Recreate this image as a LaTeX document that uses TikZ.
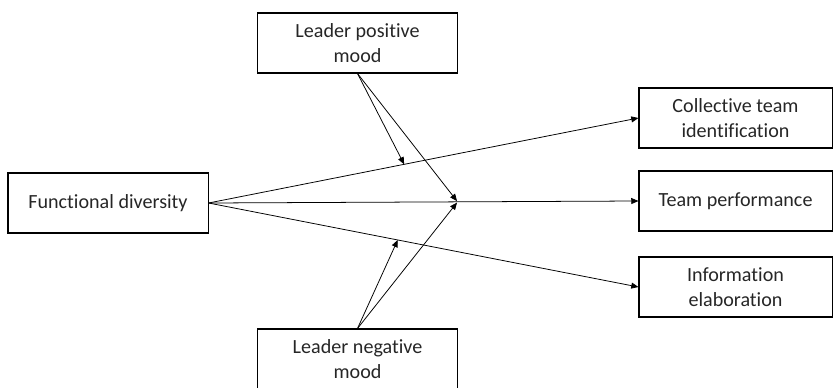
\documentclass[tikz,border=0pt]{standalone}
\usepackage{fontspec}
\setmainfont{Carlito}[Ligatures=NoCommon]
\usepackage{tikz}
\usetikzlibrary{arrows.meta, positioning}

\begin{document}
\begin{tikzpicture}[x=0.025cm, y=-0.025cm,
        caja/.style={draw, line width=0.75pt, minimum width=5cm, minimum height=1.5cm,
            align=center, inner sep=2pt, text=black!85, font=\fontsize{14.3}{17.8}\selectfont},
        flecha/.style={-{Triangle[length=0.18cm, width=0.15cm]}, line width=0.55pt}]
        \useasboundingbox (0,0) rectangle (833,387);
        % Cajas de la izquierda y del centro
        \node[caja] (lpos) at (357.5,43) {Leader positive\\mood};
        \node[caja] (fdiv) at (108,203) {Functional diversity};
        \node[caja] (lneg) at (357.5,359) {Leader negative\\mood};
        % Cajas de la derecha
        \node[caja, minimum width=4.825cm] (cti) at (735.5,118) {Collective team\\identification};
        \node[caja, minimum width=4.825cm] (tperf) at (735.5,201) {Team performance};
        \node[caja, minimum width=4.825cm] (ielab) at (735.5,287) {Information\\elaboration};
        % Efectos directos
        \draw[flecha] (fdiv.east) -- (cti.west) coordinate[pos=0.455] (mcti);
        \draw[flecha] (fdiv.east) -- (tperf.west) coordinate[pos=0.578] (mtp);
        \draw[flecha] (fdiv.east) -- (ielab.west) coordinate[pos=0.44] (mie);
        % Moderadores
        \draw[flecha] (lpos.south) -- (mcti);
        \draw[flecha] (lpos.south) -- ([yshift=0.5pt]mtp);
        \draw[flecha] (lneg.north) -- (mie);
        \draw[flecha] (lneg.north) -- ([yshift=-0.5pt]mtp);
    \end{tikzpicture}
\end{document}
